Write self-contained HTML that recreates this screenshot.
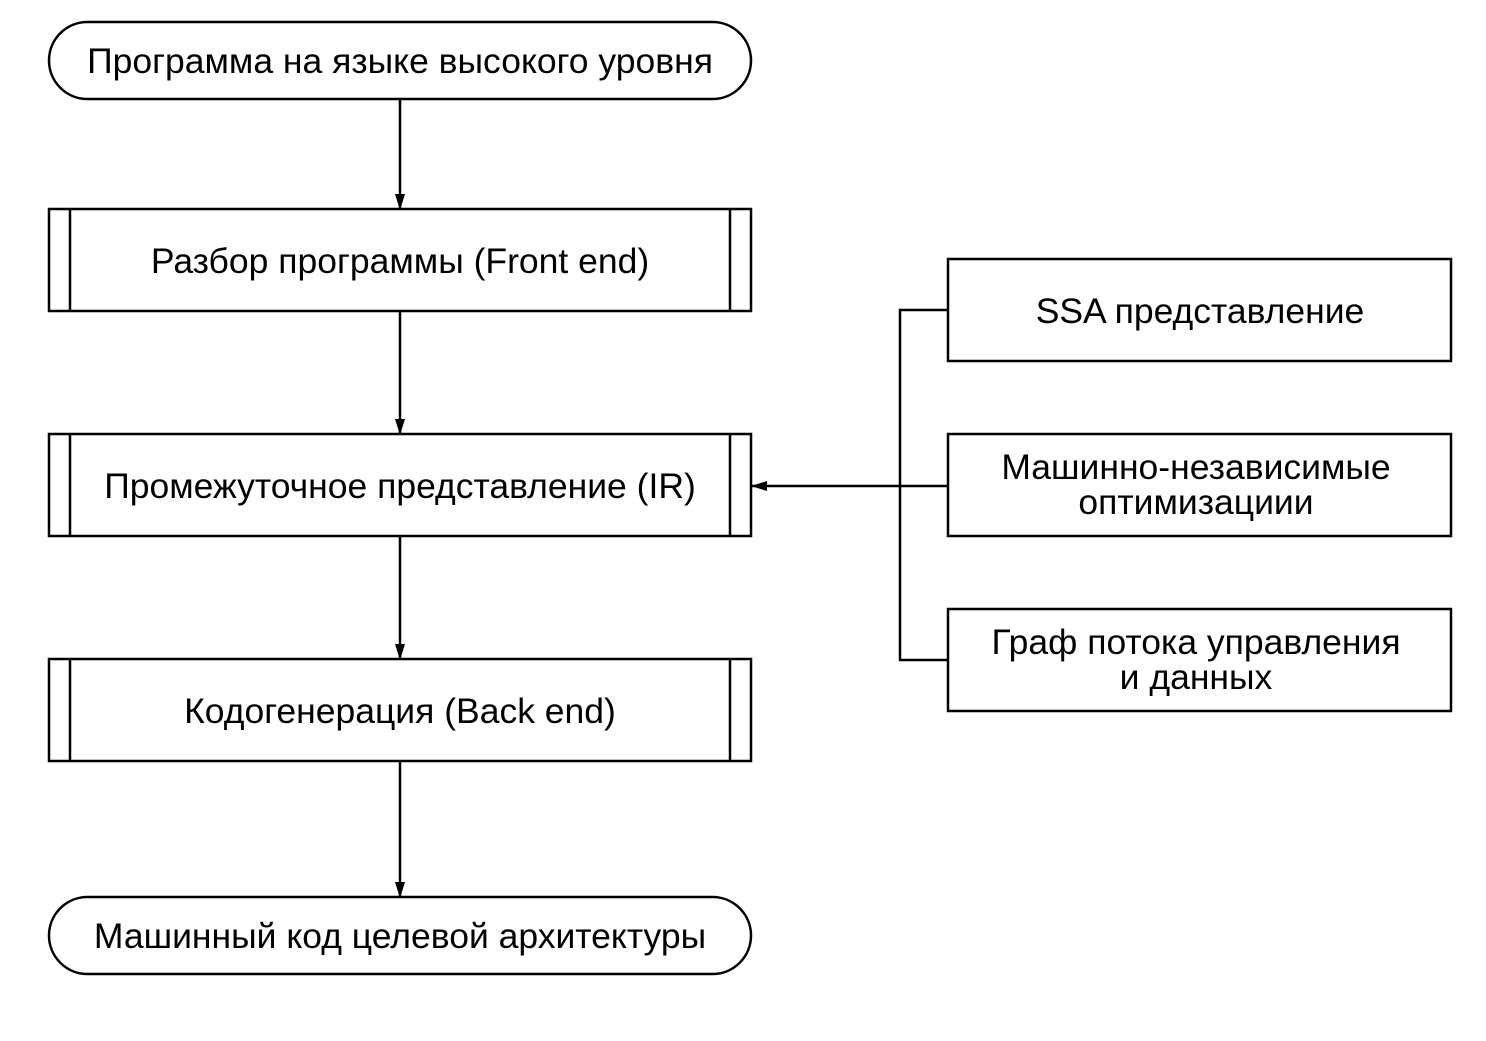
<!DOCTYPE html>
<html><head><meta charset="utf-8"><style>
body{margin:0;background:#fff}
</style></head><body>
<svg width="1486" height="1036" viewBox="0 0 1486 1036" xmlns="http://www.w3.org/2000/svg">
<defs><marker id="a" markerWidth="16" markerHeight="10" refX="15" refY="5" orient="auto" markerUnits="userSpaceOnUse"><path d="M0,0 L16,5 L0,10 z" fill="#000"/></marker></defs>
<g fill="none" stroke="#000" stroke-width="2.5">
<rect x="49" y="22" width="702" height="77" rx="38.5"/>
<rect x="49" y="897" width="702" height="77" rx="38.5"/>
<rect x="49" y="209" width="702" height="102"/><line x1="70" y1="209" x2="70" y2="311"/><line x1="730" y1="209" x2="730" y2="311"/>
<rect x="49" y="434" width="702" height="102"/><line x1="70" y1="434" x2="70" y2="536"/><line x1="730" y1="434" x2="730" y2="536"/>
<rect x="49" y="659" width="702" height="102"/><line x1="70" y1="659" x2="70" y2="761"/><line x1="730" y1="659" x2="730" y2="761"/>
<rect x="948" y="259" width="503" height="102"/>
<rect x="948" y="434" width="503" height="102"/>
<rect x="948" y="609" width="503" height="102"/>
<line x1="400" y1="99" x2="400" y2="209" marker-end="url(#a)"/>
<line x1="400" y1="311" x2="400" y2="434" marker-end="url(#a)"/>
<line x1="400" y1="536" x2="400" y2="659" marker-end="url(#a)"/>
<line x1="400" y1="761" x2="400" y2="897" marker-end="url(#a)"/>
<polyline points="948,310 900,310 900,660 948,660"/>
<line x1="948" y1="486" x2="752" y2="486" marker-end="url(#a)"/>
</g>
<g font-family="Liberation Sans, sans-serif" font-size="35.5" text-anchor="middle" fill="#000">
<text x="400" y="73">Программа на языке высокого уровня</text>
<text x="400" y="273">Разбор программы (Front end)</text>
<text x="400" y="498">Промежуточное представление (IR)</text>
<text x="400" y="723">Кодогенерация (Back end)</text>
<text x="400" y="948">Машинный код целевой архитектуры</text>
<text x="1200" y="323">SSA представление</text>
<text x="1196" y="479">Машинно-независимые</text>
<text x="1196" y="514">оптимизациии</text>
<text x="1196" y="654">Граф потока управления</text>
<text x="1196" y="689">и данных</text>
</g>
</svg>
</body></html>
